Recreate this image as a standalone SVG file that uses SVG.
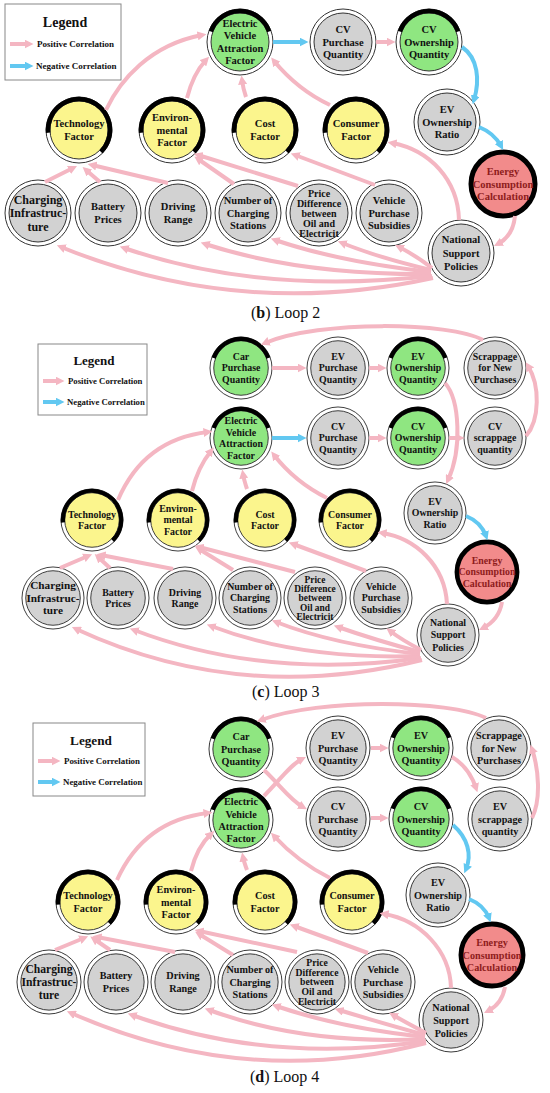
<svg xmlns="http://www.w3.org/2000/svg" xmlns:xlink="http://www.w3.org/1999/xlink" width="550" height="1093" viewBox="0 0 550 1093">
<style>
.o{fill:#fff;stroke:#333;stroke-width:1}
.g{fill:#d2d2d2;stroke:#333;stroke-width:1}
.gn{fill:#8fe681;stroke:#333;stroke-width:1}
.y{fill:#fbf58d;stroke:#333;stroke-width:1}
.rd{fill:#f28b8b;stroke:#000;stroke-width:5}
.k{fill:none;stroke:#000;stroke-width:4.5}
.t{font-family:"Liberation Serif",serif;font-weight:bold;font-size:10.5px;text-anchor:middle;fill:#111}
.tc{font-family:"Liberation Serif",serif;font-weight:bold;font-size:12px;text-anchor:middle;fill:#111}
.tp{font-family:"Liberation Serif",serif;font-weight:bold;font-size:10px;text-anchor:middle;fill:#111}
.tr{font-family:"Liberation Serif",serif;font-weight:bold;font-size:10.5px;text-anchor:middle;fill:#8e1c1c}
.pk{fill:none;stroke:#f4b6c2;stroke-width:4}
.bl{fill:none;stroke:#62c8f1;stroke-width:4}
.lg{fill:#fff;stroke:#888;stroke-width:1}
.lt{font-family:"Liberation Serif",serif;font-weight:bold;font-size:14px;text-anchor:middle;fill:#111}
.ll{font-family:"Liberation Serif",serif;font-weight:bold;font-size:9px;fill:#111}
.cap{font-family:"Liberation Serif",serif;font-size:16px;fill:#111}
</style>
<defs>
<marker id="ap" viewBox="0 0 10 10" refX="5" refY="5" markerWidth="9" markerHeight="9" markerUnits="userSpaceOnUse" orient="auto"><path d="M0,0 L10,5 L0,10 z" fill="#f4b6c2"/></marker>
<marker id="ab" viewBox="0 0 10 10" refX="5" refY="5" markerWidth="9" markerHeight="9" markerUnits="userSpaceOnUse" orient="auto"><path d="M0,0 L10,5 L0,10 z" fill="#62c8f1"/></marker>
<path id="ya" d="M -30.88 2.7 A 31 31 0 1 1 21.92 21.92"/>
<path id="ga" d="M -29.13 -10.6 A 31 31 0 0 1 29.13 -10.6"/>
</defs>

<!-- ===== Panel b ===== -->
<g id="legend-b">
<rect x="5" y="4" width="116" height="76" class="lg"/>
<text x="65" y="27" class="lt">Legend</text>
<line x1="10" y1="44" x2="29" y2="44" class="pk" marker-end="url(#ap)"/>
<text x="37" y="47" class="ll">Positive Correlation</text>
<line x1="10" y1="66" x2="29" y2="66" class="bl" marker-end="url(#ab)"/>
<text x="36" y="69" class="ll">Negative Correlation</text>
</g>

<g id="b-nodes">
<g id="b-attraction" transform="translate(240,42)"><circle r="33" class="o"/><circle r="29" class="gn"/><use xlink:href="#ga" class="k"/><text class="t"><tspan x="0" y="-15.05">Electric</tspan><tspan x="0" y="-2.55">Vehicle</tspan><tspan x="0" y="9.95">Attraction</tspan><tspan x="0" y="22.45">Factor</tspan></text></g>
<g id="b-cv-purchase" transform="translate(343,42)"><circle r="33" class="o"/><circle r="29" class="g"/><text class="t"><tspan x="0" y="-8.8">CV</tspan><tspan x="0" y="3.7">Purchase</tspan><tspan x="0" y="16.2">Quantity</tspan></text></g>
<g id="b-cv-ownership" transform="translate(429,42)"><circle r="33" class="o"/><circle r="29" class="gn"/><use xlink:href="#ga" class="k"/><text class="t"><tspan x="0" y="-8.8">CV</tspan><tspan x="0" y="3.7">Ownership</tspan><tspan x="0" y="16.2">Quantity</tspan></text></g>
<g id="b-ev-ratio" transform="translate(447,122)"><circle r="33" class="o"/><circle r="29" class="g"/><text class="t"><tspan x="0" y="-8.8">EV</tspan><tspan x="0" y="3.7">Ownership</tspan><tspan x="0" y="16.2">Ratio</tspan></text></g>
<g id="b-energy" transform="translate(503,184)"><circle r="32" class="rd"/><text class="tr"><tspan x="0" y="-8.8">Energy</tspan><tspan x="0" y="3.7">Consumption</tspan><tspan x="0" y="16.2">Calculation</tspan></text></g>
<g id="b-national" transform="translate(461,253)"><circle r="33" class="o"/><circle r="29" class="g"/><text class="t"><tspan x="0" y="-9.8">National</tspan><tspan x="0" y="3.7">Support</tspan><tspan x="0" y="17.2">Policies</tspan></text></g>
<g id="b-technology" transform="translate(79,130)"><circle r="33" class="o"/><circle r="29" class="y"/><use xlink:href="#ya" class="k"/><text class="t"><tspan x="0" y="-2.6">Technology</tspan><tspan x="0" y="9.9">Factor</tspan></text></g>
<g id="b-environmental" transform="translate(172,130)"><circle r="33" class="o"/><circle r="29" class="y"/><use xlink:href="#ya" class="k"/><text class="t"><tspan x="0" y="-8.8">Environ-</tspan><tspan x="0" y="3.7">mental</tspan><tspan x="0" y="16.2">Factor</tspan></text></g>
<g id="b-cost" transform="translate(265,130)"><circle r="33" class="o"/><circle r="29" class="y"/><use xlink:href="#ya" class="k"/><text class="t"><tspan x="0" y="-2.6">Cost</tspan><tspan x="0" y="9.9">Factor</tspan></text></g>
<g id="b-consumer" transform="translate(356,130)"><circle r="33" class="o"/><circle r="29" class="y"/><use xlink:href="#ya" class="k"/><text class="t"><tspan x="0" y="-2.6">Consumer</tspan><tspan x="0" y="9.9">Factor</tspan></text></g>
<g id="b-charging" transform="translate(38,213)"><circle r="33" class="o"/><circle r="29" class="g"/><text class="tc"><tspan x="0" y="-9.5">Charging</tspan><tspan x="0" y="4">Infrastruc-</tspan><tspan x="0" y="17.5">ture</tspan></text></g>
<g id="b-battery" transform="translate(108,213)"><circle r="33" class="o"/><circle r="29" class="g"/><text class="t"><tspan x="0" y="-2.6">Battery</tspan><tspan x="0" y="9.9">Prices</tspan></text></g>
<g id="b-driving" transform="translate(178,213)"><circle r="33" class="o"/><circle r="29" class="g"/><text class="t"><tspan x="0" y="-2.6">Driving</tspan><tspan x="0" y="9.9">Range</tspan></text></g>
<g id="b-stations" transform="translate(248,213)"><circle r="33" class="o"/><circle r="29" class="g"/><text class="t"><tspan x="0" y="-8.8">Number of</tspan><tspan x="0" y="3.7">Charging</tspan><tspan x="0" y="16.2">Stations</tspan></text></g>
<g id="b-price" transform="translate(319,213)"><circle r="33" class="o"/><circle r="29" class="g"/><text class="tp"><tspan x="0" y="-16.5">Price</tspan><tspan x="0" y="-6.5">Difference</tspan><tspan x="0" y="3.5">between</tspan><tspan x="0" y="13.5">Oil and</tspan><tspan x="0" y="23.5">Electricit</tspan></text></g>
<g id="b-subsidies" transform="translate(389,213)"><circle r="33" class="o"/><circle r="29" class="g"/><text class="t"><tspan x="0" y="-8.8">Vehicle</tspan><tspan x="0" y="3.7">Purchase</tspan><tspan x="0" y="16.2">Subsidies</tspan></text></g>
</g>

<g id="b-connectors">
<path class="pk" marker-end="url(#ap)" d="M 106 110 C 120 80, 150 45, 202 35"/>
<path class="pk" marker-end="url(#ap)" d="M 187 98 Q 193 74 206 60"/>
<path class="pk" marker-end="url(#ap)" d="M 246 97 Q 243 88 242 80"/>
<path class="pk" marker-end="url(#ap)" d="M 330 105 Q 298 90 274 61"/>
<path class="bl" marker-end="url(#ab)" d="M 273 42 L 304 42"/>
<path class="pk" marker-end="url(#ap)" d="M 376 42 L 391 42"/>
<path class="bl" marker-end="url(#ab)" d="M 462 47 C 478 58, 480 80, 474 100"/>
<path class="bl" marker-end="url(#ab)" d="M 479 127 Q 494 133 501 146"/>
<path class="pk" marker-end="url(#ap)" d="M 515 216 Q 513 236 498 244"/>
<path class="pk" marker-end="url(#ap)" d="M 459 220 C 458 180, 430 150, 392 143"/>
<path class="pk" marker-end="url(#ap)" d="M 375 185 L 295 155"/>
<path class="pk" marker-end="url(#ap)" d="M 298 186 L 198 155"/>
<path class="pk" marker-end="url(#ap)" d="M 234 184 L 198 159"/>
<path class="pk" marker-end="url(#ap)" d="M 45 182 L 73 168"/>
<path class="pk" marker-end="url(#ap)" d="M 100 182 L 86 170"/>
<path class="pk" marker-end="url(#ap)" d="M 168 183 L 92 165"/>
<path class="pk" marker-end="url(#ap)" d="M 432 268 Q 415 255 399 247"/>
<path class="pk" marker-end="url(#ap)" d="M 431 270 Q 380 258 342 243"/>
<path class="pk" marker-end="url(#ap)" d="M 431 272 Q 340 262 275 240"/>
<path class="pk" marker-end="url(#ap)" d="M 431 274 Q 300 275 205 244"/>
<path class="pk" marker-end="url(#ap)" d="M 432 276 Q 260 295 124 248"/>
<path class="pk" marker-end="url(#ap)" d="M 433 278 Q 240 320 61 247"/>
</g>
<text x="251" y="318" class="cap">(<tspan font-weight="bold">b</tspan>) Loop 2</text>

<!-- ===== Panel c ===== -->
<g id="legend-c">
<rect x="38" y="344" width="109" height="71" class="lg"/>
<text x="94" y="365" class="lt" style="font-size:13px">Legend</text>
<line x1="43" y1="381" x2="60" y2="381" class="pk" marker-end="url(#ap)"/>
<text x="68" y="384" class="ll" style="font-size:8.7px">Positive Correlation</text>
<line x1="43" y1="402" x2="60" y2="402" class="bl" marker-end="url(#ab)"/>
<text x="67" y="405" class="ll" style="font-size:8.7px">Negative Correlation</text>
</g>

<g id="c-nodes">
<g id="c-car-purchase" transform="translate(241,368) scale(.94)"><circle r="33" class="o"/><circle r="29" class="gn"/><use xlink:href="#ga" class="k"/><text class="t"><tspan x="0" y="-8.8">Car</tspan><tspan x="0" y="3.7">Purchase</tspan><tspan x="0" y="16.2">Quantity</tspan></text></g>
<g id="c-ev-purchase" transform="translate(338,368) scale(.94)"><circle r="33" class="o"/><circle r="29" class="g"/><text class="t"><tspan x="0" y="-8.8">EV</tspan><tspan x="0" y="3.7">Purchase</tspan><tspan x="0" y="16.2">Quantity</tspan></text></g>
<g id="c-ev-ownership" transform="translate(418,368) scale(.94)"><circle r="33" class="o"/><circle r="29" class="gn"/><use xlink:href="#ga" class="k"/><text class="t"><tspan x="0" y="-8.8">EV</tspan><tspan x="0" y="3.7">Ownership</tspan><tspan x="0" y="16.2">Quantity</tspan></text></g>
<g id="c-scrappage-new" transform="translate(495,368) scale(.94)"><circle r="33" class="o"/><circle r="29" class="g"/><text class="t"><tspan x="0" y="-8.8">Scrappage</tspan><tspan x="0" y="3.7">for New</tspan><tspan x="0" y="16.2">Purchases</tspan></text></g>
<g id="c-attraction" transform="translate(241,438) scale(.94)"><circle r="33" class="o"/><circle r="29" class="gn"/><use xlink:href="#ga" class="k"/><text class="t"><tspan x="0" y="-15.05">Electric</tspan><tspan x="0" y="-2.55">Vehicle</tspan><tspan x="0" y="9.95">Attraction</tspan><tspan x="0" y="22.45">Factor</tspan></text></g>
<g id="c-cv-purchase" transform="translate(338,438) scale(.94)"><circle r="33" class="o"/><circle r="29" class="g"/><text class="t"><tspan x="0" y="-8.8">CV</tspan><tspan x="0" y="3.7">Purchase</tspan><tspan x="0" y="16.2">Quantity</tspan></text></g>
<g id="c-cv-ownership" transform="translate(418,438) scale(.94)"><circle r="33" class="o"/><circle r="29" class="gn"/><use xlink:href="#ga" class="k"/><text class="t"><tspan x="0" y="-8.8">CV</tspan><tspan x="0" y="3.7">Ownership</tspan><tspan x="0" y="16.2">Quantity</tspan></text></g>
<g id="c-cv-scrappage" transform="translate(495,438) scale(.94)"><circle r="33" class="o"/><circle r="29" class="g"/><text class="t"><tspan x="0" y="-8.8">CV</tspan><tspan x="0" y="3.7">scrappage</tspan><tspan x="0" y="16.2">quantity</tspan></text></g>
<g id="c-ev-ratio" transform="translate(435,513) scale(.94)"><circle r="33" class="o"/><circle r="29" class="g"/><text class="t"><tspan x="0" y="-8.8">EV</tspan><tspan x="0" y="3.7">Ownership</tspan><tspan x="0" y="16.2">Ratio</tspan></text></g>
<g id="c-energy" transform="translate(487,572) scale(.94)"><circle r="32" class="rd"/><text class="tr"><tspan x="0" y="-8.8">Energy</tspan><tspan x="0" y="3.7">Consumption</tspan><tspan x="0" y="16.2">Calculation</tspan></text></g>
<g id="c-national" transform="translate(448,635) scale(.94)"><circle r="33" class="o"/><circle r="29" class="g"/><text class="t"><tspan x="0" y="-9.8">National</tspan><tspan x="0" y="3.7">Support</tspan><tspan x="0" y="17.2">Policies</tspan></text></g>
<g id="c-technology" transform="translate(92,520) scale(.94)"><circle r="33" class="o"/><circle r="29" class="y"/><use xlink:href="#ya" class="k"/><text class="t"><tspan x="0" y="-2.6">Technology</tspan><tspan x="0" y="9.9">Factor</tspan></text></g>
<g id="c-environmental" transform="translate(178,520) scale(.94)"><circle r="33" class="o"/><circle r="29" class="y"/><use xlink:href="#ya" class="k"/><text class="t"><tspan x="0" y="-8.8">Environ-</tspan><tspan x="0" y="3.7">mental</tspan><tspan x="0" y="16.2">Factor</tspan></text></g>
<g id="c-cost" transform="translate(265,520) scale(.94)"><circle r="33" class="o"/><circle r="29" class="y"/><use xlink:href="#ya" class="k"/><text class="t"><tspan x="0" y="-2.6">Cost</tspan><tspan x="0" y="9.9">Factor</tspan></text></g>
<g id="c-consumer" transform="translate(350,520) scale(.94)"><circle r="33" class="o"/><circle r="29" class="y"/><use xlink:href="#ya" class="k"/><text class="t"><tspan x="0" y="-2.6">Consumer</tspan><tspan x="0" y="9.9">Factor</tspan></text></g>
<g id="c-charging" transform="translate(53,598) scale(.94)"><circle r="33" class="o"/><circle r="29" class="g"/><text class="tc"><tspan x="0" y="-9.5">Charging</tspan><tspan x="0" y="4">Infrastruc-</tspan><tspan x="0" y="17.5">ture</tspan></text></g>
<g id="c-battery" transform="translate(118,598) scale(.94)"><circle r="33" class="o"/><circle r="29" class="g"/><text class="t"><tspan x="0" y="-2.6">Battery</tspan><tspan x="0" y="9.9">Prices</tspan></text></g>
<g id="c-driving" transform="translate(185,598) scale(.94)"><circle r="33" class="o"/><circle r="29" class="g"/><text class="t"><tspan x="0" y="-2.6">Driving</tspan><tspan x="0" y="9.9">Range</tspan></text></g>
<g id="c-stations" transform="translate(250,598) scale(.94)"><circle r="33" class="o"/><circle r="29" class="g"/><text class="t"><tspan x="0" y="-8.8">Number of</tspan><tspan x="0" y="3.7">Charging</tspan><tspan x="0" y="16.2">Stations</tspan></text></g>
<g id="c-price" transform="translate(315,598) scale(.94)"><circle r="33" class="o"/><circle r="29" class="g"/><text class="tp"><tspan x="0" y="-16.5">Price</tspan><tspan x="0" y="-6.5">Difference</tspan><tspan x="0" y="3.5">between</tspan><tspan x="0" y="13.5">Oil and</tspan><tspan x="0" y="23.5">Electricit</tspan></text></g>
<g id="c-subsidies" transform="translate(381,598) scale(.94)"><circle r="33" class="o"/><circle r="29" class="g"/><text class="t"><tspan x="0" y="-8.8">Vehicle</tspan><tspan x="0" y="3.7">Purchase</tspan><tspan x="0" y="16.2">Subsidies</tspan></text></g>
</g>

<g id="c-connectors">
<path class="pk" marker-end="url(#ap)" d="M 272 368 L 302 368"/>
<path class="pk" marker-end="url(#ap)" d="M 369 368 L 382 368"/>
<path class="pk" marker-end="url(#ap)" d="M 445 383 C 460 400, 462 450, 448 480"/>
<path class="bl" marker-end="url(#ab)" d="M 272 438 L 302 438"/>
<path class="pk" marker-end="url(#ap)" d="M 369 438 L 382 438"/>
<path class="pk" marker-end="url(#ap)" d="M 449 438 L 460 438"/>
<path class="pk" marker-end="url(#ap)" d="M 526 436 C 540 420, 540 385, 528 366"/>
<path class="pk" marker-end="url(#ap)" d="M 483 340 C 450 322, 320 320, 265 343"/>
<path class="bl" marker-end="url(#ab)" d="M 466 516 Q 481 522 486 536"/>
<path class="pk" marker-end="url(#ap)" d="M 502 602 Q 499 620 483 628"/>
<path class="pk" marker-end="url(#ap)" d="M 447 604 C 445 565, 415 538, 382 533"/>
<path class="pk" marker-end="url(#ap)" d="M 366 571 L 293 544"/>
<path class="pk" marker-end="url(#ap)" d="M 295 572 L 199 547"/>
<path class="pk" marker-end="url(#ap)" d="M 233 570 L 199 549"/>
<path class="pk" marker-end="url(#ap)" d="M 60 568 L 88 556"/>
<path class="pk" marker-end="url(#ap)" d="M 110 568 L 98 557"/>
<path class="pk" marker-end="url(#ap)" d="M 173 569 L 101 555"/>
<path class="pk" marker-end="url(#ap)" d="M 118 500 C 135 460, 165 437, 208 432"/>
<path class="pk" marker-end="url(#ap)" d="M 192 491 Q 198 467 211 451"/>
<path class="pk" marker-end="url(#ap)" d="M 247 489 Q 244 480 243 474"/>
<path class="pk" marker-end="url(#ap)" d="M 327 498 Q 295 482 274 455"/>
<path class="pk" marker-end="url(#ap)" d="M 422 660 Q 240 705 76 629"/>
<path class="pk" marker-end="url(#ap)" d="M 421 658 Q 265 680 134 630"/>
<path class="pk" marker-end="url(#ap)" d="M 420 656 Q 300 660 211 626"/>
<path class="pk" marker-end="url(#ap)" d="M 420 654 Q 335 645 276 622"/>
<path class="pk" marker-end="url(#ap)" d="M 420 652 Q 375 640 338 627"/>
<path class="pk" marker-end="url(#ap)" d="M 421 650 Q 402 640 390 631"/>
</g>
<text x="252" y="697" class="cap">(<tspan font-weight="bold">c</tspan>) Loop 3</text>

<!-- ===== Panel d ===== -->
<g id="legend-d">
<rect x="33" y="723" width="112" height="73" class="lg"/>
<text x="91" y="745" class="lt" style="font-size:13.2px">Legend</text>
<line x1="38" y1="761" x2="56" y2="761" class="pk" marker-end="url(#ap)"/>
<text x="64" y="764" class="ll" style="font-size:8.9px">Positive Correlation</text>
<line x1="38" y1="782" x2="56" y2="782" class="bl" marker-end="url(#ab)"/>
<text x="63" y="785" class="ll" style="font-size:8.9px">Negative Correlation</text>
</g>

<g id="d-nodes">
<g id="d-car-purchase" transform="translate(241,749) scale(.97)"><circle r="33" class="o"/><circle r="29" class="gn"/><use xlink:href="#ga" class="k"/><text class="t"><tspan x="0" y="-8.8">Car</tspan><tspan x="0" y="3.7">Purchase</tspan><tspan x="0" y="16.2">Quantity</tspan></text></g>
<g id="d-ev-purchase" transform="translate(338,748) scale(.97)"><circle r="33" class="o"/><circle r="29" class="g"/><text class="t"><tspan x="0" y="-8.8">EV</tspan><tspan x="0" y="3.7">Purchase</tspan><tspan x="0" y="16.2">Quantity</tspan></text></g>
<g id="d-ev-ownership" transform="translate(421,748) scale(.97)"><circle r="33" class="o"/><circle r="29" class="gn"/><use xlink:href="#ga" class="k"/><text class="t"><tspan x="0" y="-8.8">EV</tspan><tspan x="0" y="3.7">Ownership</tspan><tspan x="0" y="16.2">Quantity</tspan></text></g>
<g id="d-scrappage-new" transform="translate(499,748) scale(.97)"><circle r="33" class="o"/><circle r="29" class="g"/><text class="t"><tspan x="0" y="-8.8">Scrappage</tspan><tspan x="0" y="3.7">for New</tspan><tspan x="0" y="16.2">Purchases</tspan></text></g>
<g id="d-attraction" transform="translate(241,820) scale(.97)"><circle r="33" class="o"/><circle r="29" class="gn"/><use xlink:href="#ga" class="k"/><text class="t"><tspan x="0" y="-15.05">Electric</tspan><tspan x="0" y="-2.55">Vehicle</tspan><tspan x="0" y="9.95">Attraction</tspan><tspan x="0" y="22.45">Factor</tspan></text></g>
<g id="d-cv-purchase" transform="translate(338,819) scale(.97)"><circle r="33" class="o"/><circle r="29" class="g"/><text class="t"><tspan x="0" y="-8.8">CV</tspan><tspan x="0" y="3.7">Purchase</tspan><tspan x="0" y="16.2">Quantity</tspan></text></g>
<g id="d-cv-ownership" transform="translate(421,819) scale(.97)"><circle r="33" class="o"/><circle r="29" class="gn"/><use xlink:href="#ga" class="k"/><text class="t"><tspan x="0" y="-8.8">CV</tspan><tspan x="0" y="3.7">Ownership</tspan><tspan x="0" y="16.2">Quantity</tspan></text></g>
<g id="d-ev-scrappage" transform="translate(500,819) scale(.97)"><circle r="33" class="o"/><circle r="29" class="g"/><text class="t"><tspan x="0" y="-8.8">EV</tspan><tspan x="0" y="3.7">scrappage</tspan><tspan x="0" y="16.2">quantity</tspan></text></g>
<g id="d-ev-ratio" transform="translate(438,895) scale(.97)"><circle r="33" class="o"/><circle r="29" class="g"/><text class="t"><tspan x="0" y="-8.8">EV</tspan><tspan x="0" y="3.7">Ownership</tspan><tspan x="0" y="16.2">Ratio</tspan></text></g>
<g id="d-energy" transform="translate(492,955) scale(.97)"><circle r="32" class="rd"/><text class="tr"><tspan x="0" y="-8.8">Energy</tspan><tspan x="0" y="3.7">Consumption</tspan><tspan x="0" y="16.2">Calculation</tspan></text></g>
<g id="d-national" transform="translate(451,1020) scale(.97)"><circle r="33" class="o"/><circle r="29" class="g"/><text class="t"><tspan x="0" y="-9.8">National</tspan><tspan x="0" y="3.7">Support</tspan><tspan x="0" y="17.2">Policies</tspan></text></g>
<g id="d-technology" transform="translate(88,902) scale(.97)"><circle r="33" class="o"/><circle r="29" class="y"/><use xlink:href="#ya" class="k"/><text class="t"><tspan x="0" y="-2.6">Technology</tspan><tspan x="0" y="9.9">Factor</tspan></text></g>
<g id="d-environmental" transform="translate(176,902) scale(.97)"><circle r="33" class="o"/><circle r="29" class="y"/><use xlink:href="#ya" class="k"/><text class="t"><tspan x="0" y="-8.8">Environ-</tspan><tspan x="0" y="3.7">mental</tspan><tspan x="0" y="16.2">Factor</tspan></text></g>
<g id="d-cost" transform="translate(265,902) scale(.97)"><circle r="33" class="o"/><circle r="29" class="y"/><use xlink:href="#ya" class="k"/><text class="t"><tspan x="0" y="-2.6">Cost</tspan><tspan x="0" y="9.9">Factor</tspan></text></g>
<g id="d-consumer" transform="translate(352,902) scale(.97)"><circle r="33" class="o"/><circle r="29" class="y"/><use xlink:href="#ya" class="k"/><text class="t"><tspan x="0" y="-2.6">Consumer</tspan><tspan x="0" y="9.9">Factor</tspan></text></g>
<g id="d-charging" transform="translate(49,982) scale(.97)"><circle r="33" class="o"/><circle r="29" class="g"/><text class="tc"><tspan x="0" y="-9.5">Charging</tspan><tspan x="0" y="4">Infrastruc-</tspan><tspan x="0" y="17.5">ture</tspan></text></g>
<g id="d-battery" transform="translate(116,982) scale(.97)"><circle r="33" class="o"/><circle r="29" class="g"/><text class="t"><tspan x="0" y="-2.6">Battery</tspan><tspan x="0" y="9.9">Prices</tspan></text></g>
<g id="d-driving" transform="translate(183,982) scale(.97)"><circle r="33" class="o"/><circle r="29" class="g"/><text class="t"><tspan x="0" y="-2.6">Driving</tspan><tspan x="0" y="9.9">Range</tspan></text></g>
<g id="d-stations" transform="translate(250,982) scale(.97)"><circle r="33" class="o"/><circle r="29" class="g"/><text class="t"><tspan x="0" y="-8.8">Number of</tspan><tspan x="0" y="3.7">Charging</tspan><tspan x="0" y="16.2">Stations</tspan></text></g>
<g id="d-price" transform="translate(317,982) scale(.97)"><circle r="33" class="o"/><circle r="29" class="g"/><text class="tp"><tspan x="0" y="-16.5">Price</tspan><tspan x="0" y="-6.5">Difference</tspan><tspan x="0" y="3.5">between</tspan><tspan x="0" y="13.5">Oil and</tspan><tspan x="0" y="23.5">Electricit</tspan></text></g>
<g id="d-subsidies" transform="translate(383,982) scale(.97)"><circle r="33" class="o"/><circle r="29" class="g"/><text class="t"><tspan x="0" y="-8.8">Vehicle</tspan><tspan x="0" y="3.7">Purchase</tspan><tspan x="0" y="16.2">Subsidies</tspan></text></g>
</g>

<g id="d-connectors">
<path class="pk" marker-end="url(#ap)" d="M 486 718 C 450 700, 320 698, 261 720"/>
<path class="pk" marker-end="url(#ap)" d="M 264 796 C 280 780, 290 765, 302 759"/>
<path class="pk" marker-end="url(#ap)" d="M 264 770 C 280 785, 290 800, 303 807"/>
<path class="pk" marker-end="url(#ap)" d="M 371 748 L 384 748"/>
<path class="pk" marker-end="url(#ap)" d="M 371 818 L 384 818"/>
<path class="pk" marker-end="url(#ap)" d="M 452 757 Q 469 767 476 788"/>
<path class="pk" marker-end="url(#ap)" d="M 532 818 C 541 800, 539 770, 532 749"/>
<path class="bl" marker-end="url(#ab)" d="M 453 825 C 468 838, 472 855, 466 869"/>
<path class="bl" marker-end="url(#ab)" d="M 469 899 Q 484 905 489 918"/>
<path class="pk" marker-end="url(#ap)" d="M 505 987 Q 502 1004 488 1011"/>
<path class="pk" marker-end="url(#ap)" d="M 451 988 C 450 950, 420 920, 384 914"/>
<path class="pk" marker-end="url(#ap)" d="M 368 953 L 294 926"/>
<path class="pk" marker-end="url(#ap)" d="M 297 952 L 199 931"/>
<path class="pk" marker-end="url(#ap)" d="M 233 955 L 199 934"/>
<path class="pk" marker-end="url(#ap)" d="M 55 950 L 84 938"/>
<path class="pk" marker-end="url(#ap)" d="M 110 950 L 94 939"/>
<path class="pk" marker-end="url(#ap)" d="M 175 952 L 97 937"/>
<path class="pk" marker-end="url(#ap)" d="M 117 880 C 135 840, 165 818, 208 813"/>
<path class="pk" marker-end="url(#ap)" d="M 191 871 Q 197 847 211 834"/>
<path class="pk" marker-end="url(#ap)" d="M 247 870 Q 244 862 243 857"/>
<path class="pk" marker-end="url(#ap)" d="M 330 878 Q 298 862 274 836"/>
<path class="pk" marker-end="url(#ap)" d="M 426 1043 Q 245 1090 71 1013"/>
<path class="pk" marker-end="url(#ap)" d="M 426 1041 Q 270 1065 132 1015"/>
<path class="pk" marker-end="url(#ap)" d="M 425 1039 Q 305 1045 209 1010"/>
<path class="pk" marker-end="url(#ap)" d="M 425 1037 Q 340 1028 276 1006"/>
<path class="pk" marker-end="url(#ap)" d="M 425 1035 Q 378 1022 339 1010"/>
<path class="pk" marker-end="url(#ap)" d="M 426 1033 Q 405 1022 393 1015"/>
</g>
<text x="250" y="1082" class="cap">(<tspan font-weight="bold">d</tspan>) Loop 4</text>
</svg>
